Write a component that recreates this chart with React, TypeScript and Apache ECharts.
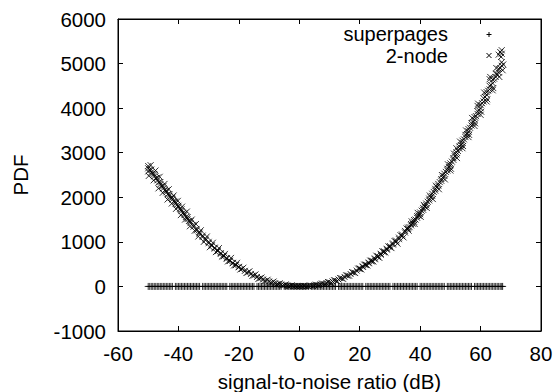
import React, { useEffect, useRef } from "react";
import * as echarts from "echarts";

const xTicks = { min: -60, max: 80, interval: 20 };
const yTicks = { min: -1000, max: 6000, interval: 1000 };

const seriesNames = ["superpages", "2-node"];

// superpages: all points at PDF = 0
const superpagesX: number[] = [
  -50, -49, -48, -47, -46, -45, -44, -43, -42, -41, -40, -39, -38, -37, -36, -35, -34, -33, -32, -31,
  -30, -29, -28, -27, -26, -25, -24, -23, -22, -21, -20, -19, -18, -17, -16, -15, -14, -13, -12, -11,
  -10, -9, -8, -7, -6, -5, -4, -3, -2, -1, 0, 1, 2, 3, 4, 5, 6, 7, 8, 9, 10, 11, 12, 13, 14, 15, 16,
  17, 18, 19, 20, 21, 22, 23, 24, 25, 26, 27, 28, 29, 30, 31, 32, 33, 34, 35, 36, 37, 38, 39, 40, 41,
  42, 43, 44, 45, 46, 47, 48, 49, 50, 51, 52, 53, 54, 55, 56, 57, 58, 59, 60, 61, 62, 63, 64, 65, 66, 67,
  -49.5, -48.5, -47.5, -46.5, -45.5, -44.5, -43.5, -42.5, -40.5, -39.5, -38.5, -37.5, -36.5, -35.5,
  -34.5, -33.5, -31.5, -30.5, -29.5, -28.5, -27.5, -26.5, -25.5, -24.5, -22.5, -21.5, -20.5, -19.5,
  -18.5, -17.5, -16.5, -15.5, -13.5, -12.5, -11.5, -10.5, -9.5, -8.5, -7.5, -6.5, -4.5, -3.5, -2.5,
  -1.5, -0.5, 0.5, 1.5, 2.5, 4.5, 5.5, 6.5, 7.5, 8.5, 9.5, 10.5, 11.5, 13.5, 14.5, 15.5, 16.5, 17.5,
  18.5, 19.5, 20.5, 22.5, 23.5, 24.5, 25.5, 26.5, 27.5, 28.5, 29.5, 31.5, 32.5, 33.5, 34.5, 35.5,
  36.5, 37.5, 38.5, 40.5, 41.5, 42.5, 43.5, 44.5, 45.5, 46.5, 47.5, 49.5, 50.5, 51.5, 52.5, 53.5,
  54.5, 55.5, 56.5, 58.5, 59.5, 60.5, 61.5, 62.5, 63.5, 64.5, 65.5, 66.5, 67.3,
];
const superpagesY: number[] = superpagesX.map(() => 0);

// 2-node: [snr, pdf], main band
const twoNode: [number, number][] = [
  [-50, 2650], [-50, 2700], [-50, 2580], [-49.5, 2620], [-49, 2560], [-49, 2620], [-48.5, 2530],
  [-48, 2470], [-48, 2520], [-47.5, 2430], [-47, 2380], [-47, 2440], [-46.5, 2340], [-46, 2290],
  [-46, 2340], [-45.5, 2250], [-45, 2200], [-45, 2250], [-44.5, 2160], [-44, 2110], [-44, 2150],
  [-43.5, 2070], [-43, 2030], [-43, 2070], [-42.5, 1990], [-42, 1950], [-42, 1990], [-41.5, 1910],
  [-41, 1860], [-41, 1900], [-40.5, 1830], [-40, 1780], [-40, 1810], [-39.5, 1740], [-39, 1690],
  [-39, 1730], [-38.5, 1650], [-38, 1600], [-38, 1640], [-37.5, 1560], [-37, 1510], [-37, 1550],
  [-36.5, 1470], [-36, 1420], [-36, 1460], [-35, 1340], [-35, 1380], [-34, 1260], [-34, 1290],
  [-33, 1180], [-33, 1210], [-32, 1110], [-32, 1140], [-31, 1040], [-31, 1070], [-30, 970],
  [-30, 1000], [-29, 910], [-29, 930], [-28, 850], [-28, 870], [-27, 790], [-27, 810], [-26, 730],
  [-26, 750], [-25, 675], [-25, 690], [-24, 620], [-24, 635], [-23, 570], [-23, 580], [-22, 520],
  [-22, 530], [-21, 475], [-21, 485], [-20, 430], [-20, 440], [-19, 390], [-18, 350], [-17, 315],
  [-16, 280], [-15, 245], [-14, 212], [-13, 182], [-12, 155], [-11, 130], [-10, 110], [-9, 88],
  [-8, 70], [-7, 53], [-6, 40], [-5, 27], [-4, 18], [-3, 10], [-2, 5], [-1, 1], [0, 0],
  [1, 1], [2, 4], [3, 8], [4, 14], [5, 22], [6, 32], [7, 44], [8, 58], [9, 74], [10, 92], [11, 111],
  [12, 132], [13, 156], [14, 182], [15, 212], [16, 244], [17, 278], [18, 315], [19, 355],
  [20, 395], [20, 405], [21, 437], [21, 450], [22, 480], [22, 492], [23, 520], [23, 535],
  [24, 560], [24, 580], [25, 610], [25, 628], [26, 660], [26, 680], [27, 712], [27, 732],
  [28, 770], [28, 790], [29, 825], [29, 845], [30, 880], [30, 905], [31, 940], [31, 965],
  [32, 1000], [32, 1030], [33, 1060], [33, 1095], [34, 1130], [34, 1165], [35, 1210], [35, 1245],
  [36, 1290], [36, 1320], [36.5, 1330], [37, 1370], [37, 1400], [37.5, 1410], [38, 1450],
  [38, 1490], [38.5, 1500], [39, 1540], [39, 1580], [39.5, 1590], [40, 1620], [40, 1660],
  [40.5, 1700], [41, 1720], [41, 1760], [41.5, 1790], [42, 1820], [42, 1860], [42.5, 1900],
  [43, 1930], [43, 1970], [43.5, 2000], [44, 2030], [44, 2080], [44.5, 2120], [45, 2150],
  [45, 2190], [45.5, 2230], [46, 2260], [46, 2300], [46.5, 2340], [47, 2370], [47, 2410],
  [47.5, 2440], [48, 2480], [48, 2530], [48.5, 2570], [49, 2600], [49, 2640], [49.5, 2680],
  [50, 2720], [50, 2760], [50, 2600], [50.5, 2800], [51, 2840], [51, 2880], [51.5, 2920],
  [52, 2960], [52, 3010], [52, 3100], [52.5, 3040], [53, 3090], [53, 3140], [53.5, 3170],
  [54, 3220], [54, 3270], [54, 3100], [54.5, 3300], [55, 3350], [55, 3400], [55.5, 3420],
  [56, 3480], [56, 3530], [56, 3350], [56.5, 3560], [57, 3610], [57, 3660], [57.5, 3680],
  [58, 3740], [58, 3800], [58, 3600], [58.5, 3820], [59, 3870], [59, 3930], [59, 4050],
  [59.5, 3950], [60, 4000], [60, 4070], [60, 3850], [60.5, 4110], [61, 4150], [61, 4220],
  [61.5, 4250], [62, 4300], [62, 4360], [62, 4150], [62.5, 4390], [63, 4420], [63, 4500],
  [63, 4650], [63.5, 4520], [64, 4560], [64, 4640], [64, 4400], [64.5, 4660], [65, 4700],
  [65, 4770], [65.5, 4760], [66, 4800], [66, 4880], [66, 5200], [66.5, 4900], [66.5, 5260],
  [67, 4950], [67, 5030], [67, 5300], [67, 5220], [67.5, 4980],
];

// 2-node: scattered points on either side of the band
const twoNodeSpread: [number, number][] = [
  [-49.8, 2480], [-49.2, 2720], [-48.2, 2380], [-47.6, 2600], [-46.6, 2200], [-46.2, 2460],
  [-45.2, 2100], [-44.6, 2300], [-43.6, 1950], [-43.2, 2180], [-42.2, 1860], [-41.6, 2040],
  [-40.8, 1740], [-40.2, 1920], [-39.2, 1600], [-38.8, 1790], [-37.8, 1500], [-37.2, 1680],
  [-36.2, 1350], [-35.6, 1500], [-34.6, 1250], [-34.2, 1400], [-33.4, 1120], [-32.6, 1260],
  [-31.6, 1000], [-30.6, 1120], [-29.6, 880], [-28.6, 980], [-27.6, 770], [-26.6, 860],
  [-25.6, 670], [-24.6, 730], [-23.6, 560], [-22.6, 640], [-21.6, 470], [-20.6, 530],
  [-19.5, 380], [-18.5, 420], [-17.5, 300], [-16.5, 340], [-15.5, 240], [-14.5, 270],
  [-13.5, 170], [-12.5, 200], [-11.5, 120], [-10.5, 150], [-9.5, 80], [-8.5, 110],
  [-7.5, 45], [-6.5, 70], [-5.5, 20], [-4.5, 45], [-3.5, 5], [-2.5, 25], [-1.5, 10], [-0.5, 5],
  [0.5, 6], [1.5, 12], [2.5, 2], [3.5, 20], [4.5, 10], [5.5, 40], [6.5, 25], [7.5, 65],
  [8.5, 50], [9.5, 100], [10.5, 80], [11.5, 140], [12.5, 118], [13.5, 190], [14.5, 170],
  [15.5, 250], [16.5, 240], [17.5, 320], [18.5, 300], [19.5, 400], [20.5, 380], [21.5, 490],
  [22.5, 470], [23.5, 580], [24.5, 560], [25.5, 690], [26.5, 640], [27.5, 790], [28.5, 760],
  [29.5, 900], [30.5, 860], [31.5, 1020], [32.5, 960], [33.5, 1150], [34.5, 1100],
  [35.5, 1300], [36.2, 1250], [37.2, 1460], [38.2, 1400], [39.2, 1650], [40.2, 1560],
  [41.2, 1830], [42.2, 1760], [43.2, 2040], [44.2, 1960], [45.2, 2260], [46.2, 2180],
  [47.2, 2500], [48.2, 2400], [49.2, 2740], [50.2, 2640], [51.2, 2980], [52.2, 2880],
  [53.2, 3250], [54.2, 3150], [55.2, 3500], [56.2, 3400], [57.2, 3780], [58.2, 3660],
  [59.2, 4100], [60.2, 3920], [61.2, 4350], [62.2, 4200], [63.2, 4700], [64.2, 4450],
  [65.2, 4900], [66.2, 4700], [66.8, 5150], [67.3, 4850],
];

const FONT = "'Liberation Sans', Arial, Helvetica, sans-serif";
const FS = 20.5;
const PLUS = "path://M0,-1L0,1M-1,0L1,0";
const CROSS = "path://M-1,-1L1,1M-1,1L1,-1";

export default function App() {
  const ref = useRef<HTMLDivElement>(null);

  useEffect(() => {
    if (!ref.current) return;
    const chart = echarts.init(ref.current, null, { renderer: "svg" });

    const axisCommon = {
      type: "value" as const,
      splitLine: { show: false },
      axisLine: { show: true, onZero: false, lineStyle: { color: "#000", width: 1 } },
      axisTick: { show: true, inside: true, length: 5, lineStyle: { color: "#000", width: 1 } },
    };

    const legendRight = 448;
    const markerX = 489;
    const row1 = 33.5;
    const row2 = 55.5;
    const plain = (v: number) => String(v);

    chart.setOption({
      animation: false,
      backgroundColor: "#fff",
      textStyle: { fontFamily: FONT },
      grid: {
        left: 118,
        right: 16,
        top: 19,
        bottom: 61,
        containLabel: false,
        outerBoundsMode: "none",
        show: true,
        borderColor: "#000",
        borderWidth: 1,
      },
      xAxis: [
        {
          ...axisCommon,
          position: "bottom",
          min: xTicks.min,
          max: xTicks.max,
          interval: xTicks.interval,
          name: "signal-to-noise ratio (dB)",
          nameLocation: "middle",
          nameGap: 40,
          nameTextStyle: { color: "#000", fontSize: FS, fontFamily: FONT, lineHeight: 21 },
          axisLabel: { color: "#000", fontSize: FS, fontFamily: FONT, margin: 12, formatter: plain },
        },
        {
          ...axisCommon,
          position: "top",
          min: xTicks.min,
          max: xTicks.max,
          interval: xTicks.interval,
          axisLabel: { show: false },
        },
      ],
      yAxis: [
        {
          ...axisCommon,
          position: "left",
          min: yTicks.min,
          max: yTicks.max,
          interval: yTicks.interval,
          name: "PDF",
          nameLocation: "middle",
          nameGap: 87,
          nameTextStyle: { color: "#000", fontSize: FS, fontFamily: FONT },
          axisLabel: { color: "#000", fontSize: FS, fontFamily: FONT, margin: 12, formatter: plain },
        },
        {
          ...axisCommon,
          position: "right",
          min: yTicks.min,
          max: yTicks.max,
          interval: yTicks.interval,
          axisLabel: { show: false },
        },
      ],
      legend: { show: false },
      series: [
        {
          name: seriesNames[0],
          type: "scatter",
          xAxisIndex: 0,
          yAxisIndex: 0,
          symbol: PLUS,
          symbolSize: 7,
          itemStyle: { color: "#000", borderColor: "#000", borderWidth: 1 },
          data: superpagesX.map((x, i) => [x, superpagesY[i]]),
          silent: true,
        },
        {
          name: seriesNames[1],
          type: "scatter",
          xAxisIndex: 0,
          yAxisIndex: 0,
          symbol: CROSS,
          symbolSize: 6,
          itemStyle: { color: "#000", borderColor: "#000", borderWidth: 1 },
          data: [...twoNode, ...twoNodeSpread],
          silent: true,
        },
      ],
      graphic: [
        {
          type: "text",
          x: legendRight,
          y: row1,
          style: {
            text: seriesNames[0],
            fill: "#000",
            font: `20px ${FONT}`,
            lineHeight: 19,
            textAlign: "right",
            textVerticalAlign: "middle",
          },
        },
        {
          type: "text",
          x: legendRight,
          y: row2,
          style: {
            text: seriesNames[1],
            fill: "#000",
            font: `20px ${FONT}`,
            lineHeight: 19,
            textAlign: "right",
            textVerticalAlign: "middle",
          },
        },
        { type: "line", shape: { x1: markerX - 2.5, y1: row1 + 1, x2: markerX + 2.5, y2: row1 + 1 }, style: { stroke: "#000", lineWidth: 1 } },
        { type: "line", shape: { x1: markerX, y1: row1 - 1.5, x2: markerX, y2: row1 + 3.5 }, style: { stroke: "#000", lineWidth: 1 } },
        { type: "line", shape: { x1: markerX - 2.5, y1: row2 - 2.5, x2: markerX + 2.5, y2: row2 + 2.5 }, style: { stroke: "#000", lineWidth: 1 } },
        { type: "line", shape: { x1: markerX - 2.5, y1: row2 + 2.5, x2: markerX + 2.5, y2: row2 - 2.5 }, style: { stroke: "#000", lineWidth: 1 } },
      ],
    });

    return () => chart.dispose();
  }, []);

  return (
    <div
      ref={ref}
      style={{ position: "fixed", left: 0, top: 0, width: 557, height: 392 }}
    />
  );
}
